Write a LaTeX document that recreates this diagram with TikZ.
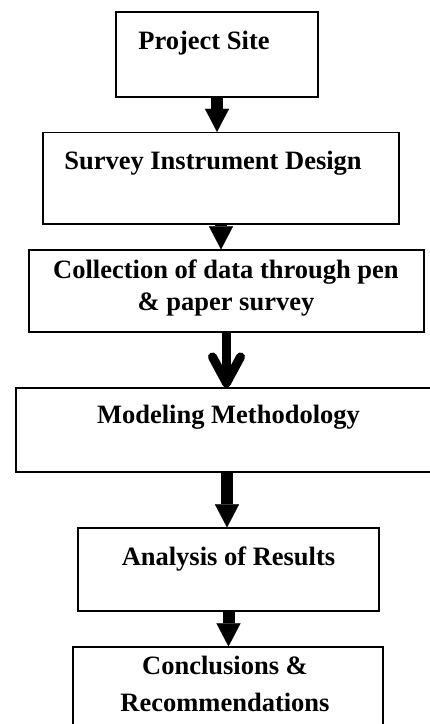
\documentclass[tikz,border=0pt]{standalone}
\usepackage{fontspec}
\setmainfont{Liberation Serif}
\usetikzlibrary{arrows.meta}

\begin{document}
\begin{tikzpicture}[
    x=1pt, y=-1pt,
    box/.style={draw=black, line width=1.2pt, inner sep=0pt},
    txt/.style={font=\fontsize{26.5}{32}\selectfont\bfseries, inner sep=0pt, anchor=base, align=center},
    arr/.style={line width=12pt, -{Triangle[length=23pt, width=24pt, line width=0.1pt]}},
    barb/.style={line width=9pt, -{Straight Barb[length=26pt, width=28pt, round]}}
]

% Page frame
    \path[use as bounding box, clip] (0,0) rectangle (430,724);

% --- Boxes
    \node[box, minimum width=202pt, minimum height=85pt]   (site)     at (217,54.5)   {};
    \node[box, minimum width=356pt, minimum height=91.5pt] (survey)   at (221,178.25) {};
    \node[box, minimum width=395pt, minimum height=82pt]   (collect)  at (226.5,291)  {};
    \node[box, minimum width=422pt, minimum height=84pt]   (model)    at (227,430)    {}; % runs off the right edge
    \node[box, minimum width=301pt, minimum height=83pt]   (analysis) at (228.5,569.5){};
    \node[box, minimum width=310pt, minimum height=98pt]   (concl)    at (228,696)    {}; % runs off the bottom

% --- Labels (base = last line)
    \node[txt] (site-lbl)     at (204,49)    {Project Site};
    \node[txt] (survey-lbl)   at (213,169)   {Survey Instrument Design};
    \node[txt] (collect-lbl)  at (226,310)   {Collection of data through pen\\ \& paper survey};
    \node[txt] (model-lbl)    at (228.5,423) {Modeling Methodology};
    \node[txt] (analysis-lbl) at (228.5,565) {Analysis of Results};
    \node[txt] (concl-lbl)    at (225,711)   {Conclusions \&\\[5pt] Recommendations};

% --- Arrows
    \draw[arr]  (site.south)     -- (site.south |- survey.north);
    \draw[arr]  (survey.south)   -- (survey.south |- collect.north);
    \draw[barb] (collect.south)  -- (collect.south |- model.north);
    \draw[arr]  (model.south)    -- (model.south |- analysis.north);
    \draw[arr]  (analysis.south) -- (analysis.south |- concl.north);
\end{tikzpicture}
\end{document}
